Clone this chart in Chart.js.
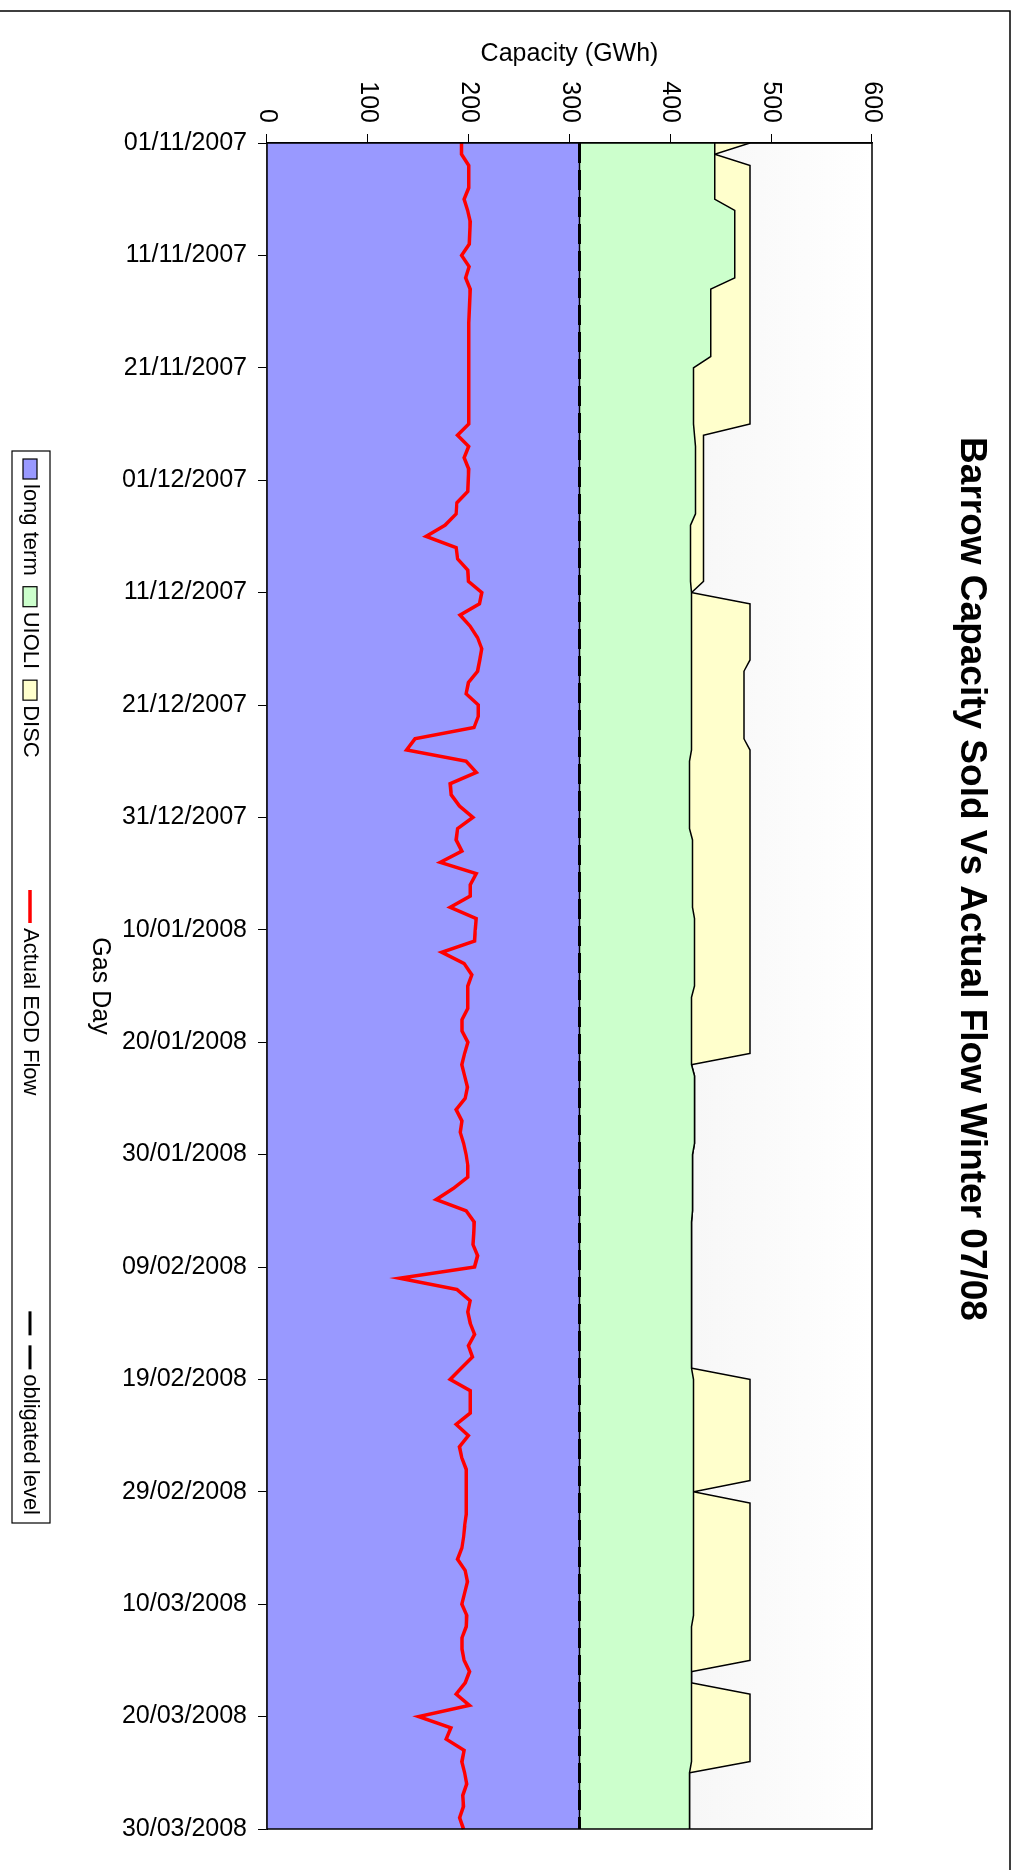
<!DOCTYPE html>
<html>
<head>
<meta charset="utf-8">
<script src="https://cdn.jsdelivr.net/npm/chart.js@4.4.1/dist/chart.umd.min.js"></script>
<style>
  html, body { margin: 0; padding: 0; background: #fff; }
  #page { position: relative; width: 1013px; height: 1870px; overflow: hidden; background: #fff; }
  /* the chart is laid out landscape and turned a quarter clockwise */
  #turn { position: absolute; left: 0; top: 0; width: 1870px; height: 1013px;
          transform-origin: 0 0; transform: translate(1013px, 0) rotate(90deg); }
</style>
</head>
<body>
<div id="page"><div id="turn"><canvas id="barrowChart" width="1870" height="1013"></canvas></div></div>
<script>
const FONT = '"Liberation Sans", Arial, Helvetica, sans-serif';
const chartTitle = 'Barrow Capacity Sold Vs Actual Flow Winter 07/08';

// gas days 01/11/2007 .. 30/03/2008
const gasDays = [];
for (let i = 0; i <= 150; i++) {
    const d = new Date(2007, 10, 1 + i);
    const dd = String(d.getDate()).padStart(2, '0');
    const mm = String(d.getMonth() + 1).padStart(2, '0');
    gasDays.push(dd + '/' + mm + '/' + d.getFullYear());
}

const capacityTicks = [0, 100, 200, 300, 400, 500, 600];

const longTerm = [
    310, 310, 310, 310, 310, 310, 310, 310, 310, 310,
    310, 310, 310, 310, 310, 310, 310, 310, 310, 310,
    310, 310, 310, 310, 310, 310, 310, 310, 310, 310,
    310, 310, 310, 310, 310, 310, 310, 310, 310, 310,
    310, 310, 310, 310, 310, 310, 310, 310, 310, 310,
    310, 310, 310, 310, 310, 310, 310, 310, 310, 310,
    310, 310, 310, 310, 310, 310, 310, 310, 310, 310,
    310, 310, 310, 310, 310, 310, 310, 310, 310, 310,
    310, 310, 310, 310, 310, 310, 310, 310, 310, 310,
    310, 310, 310, 310, 310, 310, 310, 310, 310, 310,
    310, 310, 310, 310, 310, 310, 310, 310, 310, 310,
    310, 310, 310, 310, 310, 310, 310, 310, 310, 310,
    310, 310, 310, 310, 310, 310, 310, 310, 310, 310,
    310, 310, 310, 310, 310, 310, 310, 310, 310, 310,
    310, 310, 310, 310, 310, 310, 310, 310, 310, 310,
    310
];

const uioli = [
    134, 134, 134, 134, 134, 134, 154, 154, 154, 154,
    154, 154, 154, 130, 130, 130, 130, 130, 130, 130,
    113, 113, 113, 113, 113, 113, 114, 115, 115, 115,
    115, 115, 115, 115, 110, 110, 110, 110, 110, 110,
    111, 111, 111, 111, 111, 111, 111, 111, 111, 111,
    111, 111, 111, 111, 111, 109, 109, 109, 109, 109,
    109, 109, 112, 112, 112, 112, 112, 112, 112, 114,
    114, 114, 114, 114, 114, 114, 111, 111, 111, 111,
    111, 111, 111, 114, 114, 114, 114, 114, 114, 114,
    112, 112, 112, 112, 112, 112, 111, 111, 111, 111,
    111, 111, 111, 111, 111, 111, 111, 111, 111, 111,
    113, 113, 113, 113, 113, 113, 113, 113, 113, 113,
    113, 113, 113, 113, 113, 113, 113, 113, 113, 113,
    113, 113, 111, 111, 111, 111, 111, 111, 111, 111,
    111, 111, 111, 111, 111, 109, 109, 109, 109, 109,
    109
];

const disc = [
    35, 0, 35, 35, 35, 35, 15, 15, 15, 15,
    15, 15, 15, 39, 39, 39, 39, 39, 39, 39,
    56, 56, 56, 56, 56, 56, 9, 8, 8, 8,
    8, 8, 8, 8, 13, 13, 13, 13, 13, 13,
    0, 58, 58, 58, 58, 58, 58, 52, 52, 52,
    52, 52, 52, 52, 58, 60, 60, 60, 60, 60,
    60, 60, 57, 57, 57, 57, 57, 57, 57, 55,
    55, 55, 55, 55, 55, 55, 58, 58, 58, 58,
    58, 58, 0, 0, 0, 0, 0, 0, 0, 0,
    0, 0, 0, 0, 0, 0, 0, 0, 0, 0,
    0, 0, 0, 0, 0, 0, 0, 0, 0, 0,
    56, 56, 56, 56, 56, 56, 56, 56, 56, 56,
    0, 56, 56, 56, 56, 56, 56, 56, 56, 56,
    56, 56, 58, 58, 58, 58, 0, 0, 58, 58,
    58, 58, 58, 58, 58, 0, 0, 0, 0, 0,
    0
];

const actualFlow = [
    193, 193, 200, 200, 200, 195.5, 199, 201.5, 201, 200.5,
    193, 200.5, 197, 201.5, 201, 200.5, 200, 200, 200, 200,
    200, 200, 200, 200, 200, 200, 189, 200, 195.5, 200,
    199.5, 199, 188.3, 187.6, 176.6, 157.8, 187.6, 189, 199.2, 199.8,
    213, 210.7, 191.5, 201.5, 208.8, 213, 211, 208.8, 199.8, 197.5,
    209.6, 209.6, 205.3, 146.8, 138.5, 197.5, 207.5, 181.7, 182.7, 191,
    204.2, 189, 187.6, 193.3, 171.8, 207.5, 201.5, 201.5, 181.7, 207.5,
    206.5, 205.8, 173.4, 195.5, 203.1, 199.2, 199.2, 199.2, 193.3, 193.3,
    199.2, 196, 193.3, 196, 198.8, 196.5, 187.6, 193.3, 191.6, 195,
    197.5, 199.2, 199.2, 185, 167.8, 197.5, 205.5, 205, 204.2, 208.8,
    205.8, 131.5, 188.3, 201.5, 199.2, 201.5, 205.8, 199.8, 203.8, 192.7,
    181.7, 201.5, 201.5, 201.5, 187.6, 199.8, 190.9, 193.3, 197.5, 197.5,
    197.5, 197.5, 197.5, 196, 195, 193.3, 189, 196.5, 198.8, 196,
    193.3, 198.1, 197.5, 193.3, 193.3, 195.5, 200.8, 196.5, 187.6, 200.8,
    150.3, 182.3, 177.7, 195.5, 193.3, 196, 198.1, 194.2, 194.9, 191,
    194.9
];

const obligated = longTerm.slice();

// frame, plot background, title and an Excel style legend box
const excelDecor = {
    id: 'excelDecor',
    beforeDraw(chart) {
        const { ctx, chartArea: a, width, height } = chart;
        ctx.save();
        ctx.fillStyle = '#fff';
        ctx.fillRect(0, 0, width, height);
        ctx.strokeStyle = '#000';
        ctx.lineWidth = 1.5;
        ctx.strokeRect(11, 3, width + 40, height + 40);

        const g = ctx.createLinearGradient(0, a.bottom, 0, a.top);
        g.addColorStop(0, '#e4e4e4');
        g.addColorStop(1, '#ffffff');
        ctx.fillStyle = g;
        ctx.fillRect(a.left, a.top, a.right - a.left, a.bottom - a.top);

        ctx.fillStyle = '#000';
        ctx.font = 'bold 37px ' + FONT;
        ctx.textAlign = 'center';
        ctx.textBaseline = 'middle';
        ctx.fillText(chartTitle, 879, 42);
        ctx.restore();
    },
    afterDatasetsDraw(chart) {
        const { ctx, chartArea: a } = chart;
        ctx.save();
        ctx.strokeStyle = '#000';
        ctx.lineWidth = 1.5;
        ctx.strokeRect(a.left, a.top, a.right - a.left, a.bottom - a.top);
        ctx.restore();
    },
    afterDraw(chart) {
        const ctx = chart.ctx;
        const box = { left: 451, top: 963, right: 1523, bottom: 1001 };
        const mid = (box.top + box.bottom) / 2;
        ctx.save();
        ctx.fillStyle = '#fff';
        ctx.fillRect(box.left, box.top, box.right - box.left, box.bottom - box.top);
        ctx.strokeStyle = '#000';
        ctx.lineWidth = 1.2;
        ctx.strokeRect(box.left, box.top, box.right - box.left, box.bottom - box.top);

        ctx.font = '22px ' + FONT;
        ctx.textBaseline = 'middle';
        ctx.textAlign = 'left';

        const entries = chart.data.datasets.map(ds => {
            const keyW = ds.fill ? 20 : (ds.borderDash ? 58 : 33);
            return { ds, keyW, w: keyW + 5 + ctx.measureText(ds.label).width };
        });
        // first three packed from the left, last one against the right edge
        const starts = [];
        let x = box.left + 8;
        for (let i = 0; i < 3; i++) {
            starts.push(x);
            x += entries[i].w + 11;
        }
        const lastStart = box.right - 8 - entries[4].w;
        starts.push(890, lastStart);

        entries.forEach((e, i) => {
            const ds = e.ds;
            const sx = starts[i];
            if (ds.fill) {
                ctx.fillStyle = ds.backgroundColor;
                ctx.fillRect(sx, mid - 6, 20, 14);
                ctx.strokeStyle = '#000';
                ctx.lineWidth = 1.2;
                ctx.setLineDash([]);
                ctx.strokeRect(sx, mid - 6, 20, 14);
            } else {
                ctx.strokeStyle = ds.borderColor;
                ctx.lineWidth = ds.borderWidth;
                ctx.setLineDash(ds.borderDash ? [24, 10] : []);
                ctx.beginPath();
                ctx.moveTo(sx, mid + 1);
                ctx.lineTo(sx + e.keyW, mid + 1);
                ctx.stroke();
                ctx.setLineDash([]);
            }
            ctx.fillStyle = '#000';
            ctx.fillText(ds.label, sx + e.keyW + 5, mid + 1);
        });
        ctx.restore();
    }
};

const tickMark = c => (c.index % 10 === 0 ? '#000' : 'rgba(0,0,0,0)');

const ctx = document.getElementById('barrowChart').getContext('2d');
new Chart(ctx, {
    type: 'line',
    data: {
        labels: gasDays,
        datasets: [
            { label: 'long term', data: longTerm, stack: 'sold', fill: 'origin',
              backgroundColor: '#9999ff', borderColor: '#000', borderWidth: 1.5, order: 1 },
            { label: 'UIOLI', data: uioli, stack: 'sold', fill: '-1',
              backgroundColor: '#ccffcc', borderColor: '#000', borderWidth: 1.5, order: 1 },
            { label: 'DISC', data: disc, stack: 'sold', fill: '-1',
              backgroundColor: '#ffffcc', borderColor: '#000', borderWidth: 1.5, order: 1 },
            { label: 'Actual EOD Flow', data: actualFlow, stack: 'flow', fill: false,
              borderColor: '#ff0000', borderWidth: 3.5, order: 0 },
            { label: 'obligated level', data: obligated, stack: 'obligated', fill: false,
              borderColor: '#000', borderWidth: 3, borderDash: [20, 7], order: 0 }
        ]
    },
    options: {
        responsive: false,
        animation: false,
        layout: { padding: { left: 20, right: 39, top: 141, bottom: 85 } },
        elements: {
            point: { radius: 0, hoverRadius: 0 },
            line: { tension: 0 }
        },
        plugins: {
            legend: { display: false },
            title: { display: false },
            tooltip: { enabled: false }
        },
        scales: {
            x: {
                offset: false,
                grid: { drawOnChartArea: false, tickLength: 9, color: tickMark, tickColor: tickMark },
                border: { color: '#000', width: 1.5 },
                ticks: {
                    autoSkip: false, minRotation: 90, maxRotation: 90, padding: 11,
                    color: '#000', font: { family: FONT, size: 25 },
                    callback: (v, i) => (i % 10 === 0 ? gasDays[i] : '')
                },
                title: { display: true, text: 'Gas Day', color: '#000',
                         font: { family: FONT, size: 25 }, padding: { top: 0, bottom: 0 } },
                afterFit: s => { s.height = 182; }
            },
            y: {
                stacked: true,
                min: capacityTicks[0],
                max: capacityTicks[capacityTicks.length - 1],
                afterBuildTicks: s => { s.ticks = capacityTicks.map(v => ({ value: v })); },
                grid: { drawOnChartArea: false, tickLength: 9, color: '#000' },
                border: { color: '#000', width: 1.5 },
                ticks: { padding: 11, color: '#000', font: { family: FONT, size: 25 } },
                title: { display: true, text: 'Capacity (GWh)', color: '#000',
                         font: { family: FONT, size: 25 }, padding: { top: 19, bottom: 0 } },
                afterFit: s => { s.width = 123; }
            }
        }
    },
    plugins: [excelDecor]
});
</script>
</body>
</html>
